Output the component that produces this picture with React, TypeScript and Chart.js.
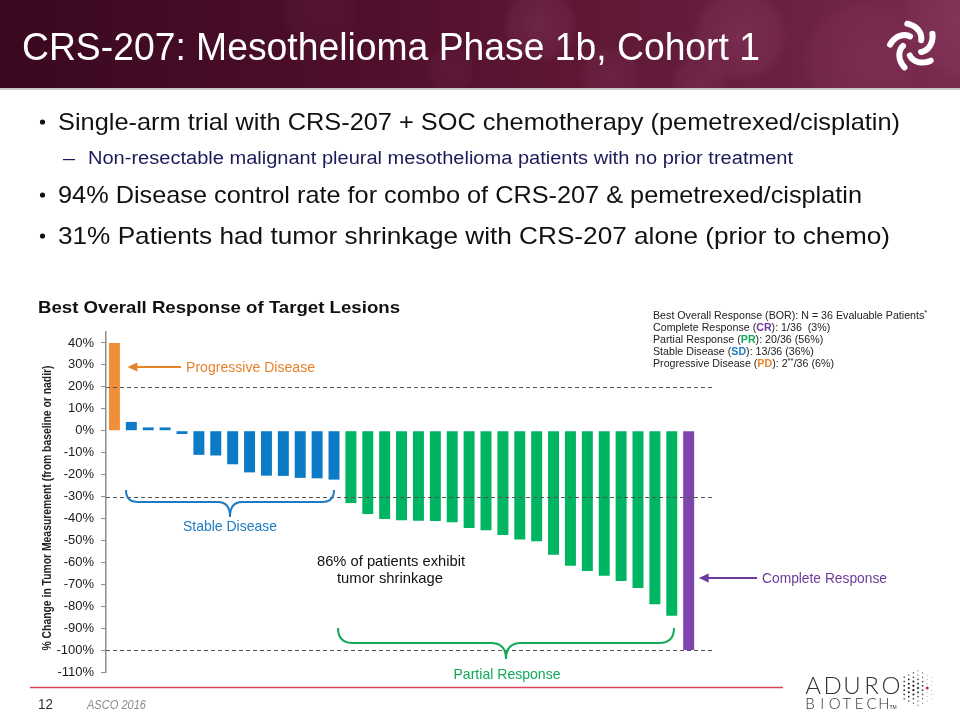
import React, { useEffect, useRef } from "react";
import { Chart, registerables } from "chart.js";
Chart.register(...registerables);

const FONT = '"Liberation Sans", Arial, Helvetica, sans-serif';

// ---- data ----
const patientLabels = [
  "1", "2", "3", "4", "5", "6", "7", "8", "9", "10", "11", "12",
  "13", "14", "15", "16", "17", "18", "19", "20", "21", "22", "23", "24",
  "25", "26", "27", "28", "29", "30", "31", "32", "33", "34", "35", "",
];
const pdValues = [40];
const sdValues = [4, 1.5, 1.5, -1.5, -11, -11.3, -15.3, -19, -20.5, -20.6, -21.5, -21.7, -22.3];
const prValues = [
  -33, -38, -40.2, -40.8, -41.1, -41.2, -41.7, -44.4, -45.4, -47.6,
  -49.6, -50.4, -56.6, -61.6, -63.9, -66.1, -68.5, -71.7, -79.1, -84.3,
];
const crValues = [-100];
const refLines = [20, -30, -100];
const bulletLines = [
  "Single-arm trial with CRS-207 + SOC chemotherapy (pemetrexed/cisplatin)",
  "Non-resectable malignant pleural mesothelioma patients with no prior treatment",
  "94% Disease control rate for combo of CRS-207 & pemetrexed/cisplatin",
  "31% Patients had tumor shrinkage with CRS-207 alone (prior to chemo)",
];

const PD_COLOR = "#F28E3A";
const SD_COLOR = "#0B7BC7";
const PR_COLOR = "#00B562";
const CR_COLOR = "#7E45AE";
const PD_TEXT = "#E8822A";
const SD_TEXT = "#1C7CC3";
const PR_TEXT = "#12A957";
const CR_TEXT = "#6E3A9E";

function fitText(ctx: CanvasRenderingContext2D, text: string, x: number, y: number, width: number, font: string, color: string, align: CanvasTextAlign = "left") {
  ctx.save();
  ctx.font = font;
  ctx.fillStyle = color;
  ctx.textBaseline = "alphabetic";
  const w = ctx.measureText(text).width;
  const s = width / w;
  ctx.translate(x, y);
  ctx.scale(s, 1);
  ctx.textAlign = align;
  ctx.fillText(text, 0, 0);
  ctx.restore();
}

type Run = { text: string; font: string; color: string; dy?: number };
function drawRuns(ctx: CanvasRenderingContext2D, runs: Run[], x: number, y: number, sx = 1) {
  let cx = 0;
  ctx.save();
  ctx.translate(x, y);
  ctx.scale(sx, 1);
  ctx.textAlign = "left";
  ctx.textBaseline = "alphabetic";
  for (const r of runs) {
    ctx.font = r.font;
    ctx.fillStyle = r.color;
    ctx.fillText(r.text, cx, r.dy || 0);
    cx += ctx.measureText(r.text).width;
  }
  ctx.restore();
}

function brace(ctx: CanvasRenderingContext2D, x1: number, x2: number, yTop: number, yMid: number, yTip: number, color: string) {
  const xm = (x1 + x2) / 2;
  const r = yMid - yTop;
  ctx.save();
  ctx.strokeStyle = color;
  ctx.lineWidth = 2;
  ctx.beginPath();
  ctx.moveTo(x1, yTop);
  ctx.quadraticCurveTo(x1, yMid, x1 + r, yMid);
  ctx.lineTo(xm - r, yMid);
  ctx.quadraticCurveTo(xm, yMid, xm, yTip);
  ctx.quadraticCurveTo(xm, yMid, xm + r, yMid);
  ctx.lineTo(x2 - r, yMid);
  ctx.quadraticCurveTo(x2, yMid, x2, yTop);
  ctx.stroke();
  ctx.restore();
}

function arrowLeft(ctx: CanvasRenderingContext2D, xFrom: number, xTip: number, y: number, color: string) {
  ctx.save();
  ctx.strokeStyle = color;
  ctx.fillStyle = color;
  ctx.lineWidth = 2;
  ctx.beginPath();
  ctx.moveTo(xFrom, y);
  ctx.lineTo(xTip + 7, y);
  ctx.stroke();
  ctx.beginPath();
  ctx.moveTo(xTip, y);
  ctx.lineTo(xTip + 10, y - 4.5);
  ctx.lineTo(xTip + 10, y + 4.5);
  ctx.closePath();
  ctx.fill();
  ctx.restore();
}

function drawHeader(ctx: CanvasRenderingContext2D) {
  ctx.save();
  const g = ctx.createLinearGradient(0, 0, 960, 0);
  g.addColorStop(0, "#3a0820");
  g.addColorStop(0.35, "#4c0e2b");
  g.addColorStop(0.6, "#5e1735");
  g.addColorStop(0.85, "#6d2244");
  g.addColorStop(1, "#7a2c50");
  ctx.fillStyle = g;
  ctx.fillRect(0, 0, 960, 88);
  ctx.beginPath();
  ctx.rect(0, 0, 960, 88);
  ctx.clip();
  const blobs = [
    [320, 10, 40, 0.05], [540, 25, 38, 0.12], [610, 75, 30, 0.08], [740, 35, 48, 0.12],
    [700, 85, 30, 0.09], [860, 60, 60, 0.07], [450, 70, 25, 0.05], [960, 20, 60, 0.08],
  ];
  for (const [bx, by, br, a] of blobs) {
    const rg = ctx.createRadialGradient(bx, by, 2, bx, by, br);
    rg.addColorStop(0, `rgba(230,150,190,${a})`);
    rg.addColorStop(0.8, `rgba(200,110,160,${a * 0.8})`);
    rg.addColorStop(1, "rgba(200,110,160,0)");
    ctx.fillStyle = rg;
    ctx.beginPath();
    ctx.arc(bx, by, br, 0, Math.PI * 2);
    ctx.fill();
  }
  ctx.restore();
  ctx.fillStyle = "#c8c8c8";
  ctx.fillRect(0, 88, 960, 2);
  fitText(ctx, "CRS-207: Mesothelioma Phase 1b, Cohort 1", 22, 60, 738, `38px ${FONT}`, "#ffffff");
  // pinwheel logo
  ctx.save();
  ctx.strokeStyle = "#ffffff";
  ctx.lineWidth = 6;
  ctx.lineCap = "round";
  const cx = 913, cy = 46;
  for (let k = 0; k < 5; k++) {
    const a0 = -Math.PI / 2 + k * (2 * Math.PI / 5) - 0.25;
    ctx.beginPath();
    for (let t = 0; t <= 1.0001; t += 0.1) {
      const ang = a0 + t * 1.2;
      const rr = 23 - t * 13;
      const px = cx + rr * Math.cos(ang);
      const py = cy + rr * Math.sin(ang);
      if (t === 0) ctx.moveTo(px, py); else ctx.lineTo(px, py);
    }
    ctx.stroke();
  }
  ctx.restore();
}

function drawBullets(ctx: CanvasRenderingContext2D) {
  ctx.save();
  ctx.fillStyle = "#111";
  const dots = [122, 195, 236];
  for (const y of dots) {
    ctx.beginPath();
    ctx.arc(42.5, y, 2.6, 0, Math.PI * 2);
    ctx.fill();
  }
  ctx.restore();
  fitText(ctx, bulletLines[0], 58, 130, 842, `24px ${FONT}`, "#111");
  fitText(ctx, "–", 63, 164, 12, `18px ${FONT}`, "#1b1b58");
  fitText(ctx, bulletLines[1], 88, 164, 705, `18px ${FONT}`, "#1b1b58");
  fitText(ctx, bulletLines[2], 58, 203, 804, `24px ${FONT}`, "#111");
  fitText(ctx, bulletLines[3], 58, 244, 832, `24px ${FONT}`, "#111");
}

function drawLegendBox(ctx: CanvasRenderingContext2D) {
  const f = `11px ${FONT}`;
  const fb = `bold 11px ${FONT}`;
  const fs = `8px ${FONT}`;
  const c = "#222";
  const x = 653;
  const sx = 0.97;
  drawRuns(ctx, [
    { text: "Best Overall Response (BOR): N = 36 Evaluable Patients", font: f, color: c },
    { text: "*", font: fs, color: c, dy: -4 },
  ], x, 319, sx);
  drawRuns(ctx, [
    { text: "Complete Response (", font: f, color: c },
    { text: "CR", font: fb, color: CR_TEXT },
    { text: "): 1/36  (3%)", font: f, color: c },
  ], x, 331, sx);
  drawRuns(ctx, [
    { text: "Partial Response (", font: f, color: c },
    { text: "PR", font: fb, color: PR_TEXT },
    { text: "): 20/36 (56%)", font: f, color: c },
  ], x, 343, sx);
  drawRuns(ctx, [
    { text: "Stable Disease (", font: f, color: c },
    { text: "SD", font: fb, color: SD_TEXT },
    { text: "): 13/36 (36%)", font: f, color: c },
  ], x, 355, sx);
  drawRuns(ctx, [
    { text: "Progressive Disease (", font: f, color: c },
    { text: "PD", font: fb, color: PD_TEXT },
    { text: "): 2", font: f, color: c },
    { text: "**", font: fs, color: c, dy: -4 },
    { text: "/36 (6%)", font: f, color: c },
  ], x, 367, sx);
}

function drawFooter(ctx: CanvasRenderingContext2D) {
  ctx.save();
  ctx.strokeStyle = "#D94453";
  ctx.lineWidth = 1.5;
  ctx.beginPath();
  ctx.moveTo(30, 687.5);
  ctx.lineTo(783, 687.5);
  ctx.stroke();
  ctx.restore();
  fitText(ctx, "12", 38, 709, 15, `14px ${FONT}`, "#333");
  fitText(ctx, "ASCO 2016", 87, 709, 59, `italic 13px ${FONT}`, "#8a8a8a");
  // ADURO BIOTECH logo
  ctx.save();
  ctx.fillStyle = "#333";
  ctx.textBaseline = "alphabetic";
  ctx.textAlign = "center";
  ctx.font = `300 24px Lato, ${FONT}`;
  const big = "ADURO";
  for (let i = 0; i < big.length; i++) ctx.fillText(big[i], 813 + i * 19.5, 694);
  ctx.font = `300 15px Lato, ${FONT}`;
  const small = "BIOTECH";
  for (let i = 0; i < small.length; i++) ctx.fillText(small[i], 810 + i * 12.3, 709);
  ctx.font = `5px ${FONT}`;
  ctx.fillText("TM", 893, 709);
  // dot cluster
  const ccx = 918, ccy = 688;
  for (let row = -4; row <= 4; row++) {
    for (let col = -3; col <= 3; col++) {
      const px = ccx + col * 4.6;
      const py = ccy + row * 4.3 + (col % 2 !== 0 ? 2.15 : 0);
      const d = Math.hypot(px - ccx, py - ccy);
      if (d > 19) continue;
      const rightness = (col + 3) / 6;
      const sz = Math.max(0.6, 1.5 - d / 22 - rightness * 0.4);
      ctx.fillStyle = rightness > 0.7 ? "#b8b8b8" : rightness > 0.45 ? "#555" : "#1a1a1a";
      ctx.beginPath();
      ctx.arc(px, py, sz, 0, Math.PI * 2);
      ctx.fill();
    }
  }
  ctx.fillStyle = "#d2232a";
  ctx.beginPath();
  ctx.arc(927.2, 688, 1.5, 0, Math.PI * 2);
  ctx.fill();
  ctx.restore();
}

const slidePlugin = {
  id: "slide",
  beforeDraw(chart: any) {
    const ctx: CanvasRenderingContext2D = chart.ctx;
    ctx.save();
    ctx.fillStyle = "#ffffff";
    ctx.fillRect(0, 0, chart.width, chart.height);
    ctx.restore();
    drawHeader(ctx);
    drawBullets(ctx);
    fitText(ctx, "Best Overall Response of Target Lesions", 38, 313, 362, `bold 17px ${FONT}`, "#111");
    drawLegendBox(ctx);
    drawFooter(ctx);
  },
  afterDatasetsDraw(chart: any) {
    const ctx: CanvasRenderingContext2D = chart.ctx;
    const y = chart.scales.y;
    const area = chart.chartArea;
    ctx.save();
    ctx.strokeStyle = "#555";
    ctx.lineWidth = 1;
    ctx.setLineDash([4, 3]);
    for (const v of refLines) {
      const py = Math.round(y.getPixelForValue(v)) + 0.5;
      ctx.beginPath();
      ctx.moveTo(area.left, py);
      ctx.lineTo(area.right - 2, py);
      ctx.stroke();
    }
    ctx.restore();
  },
  afterDraw(chart: any) {
    const ctx: CanvasRenderingContext2D = chart.ctx;
    const x = chart.scales.x;
    const y = chart.scales.y;
    // y axis title
    ctx.save();
    ctx.translate(51, 508);
    ctx.rotate(-Math.PI / 2);
    fitText(ctx, "% Change in Tumor Measurement (from baseline or nadir)", 0, 0, 285, `bold 12.5px ${FONT}`, "#222", "center");
    ctx.restore();
    // progressive disease
    const pdY = y.getPixelForValue(29);
    arrowLeft(ctx, 181, x.getPixelForValue(0) + 13, pdY, PD_TEXT);
    fitText(ctx, "Progressive Disease", 186, pdY + 5, 129, `14px ${FONT}`, PD_TEXT);
    // stable disease
    brace(ctx, 126, 334, 490, 502, 517, SD_TEXT);
    fitText(ctx, "Stable Disease", 230, 531, 94, `14.5px ${FONT}`, SD_TEXT, "center");
    // shrinkage note
    fitText(ctx, "86% of patients exhibit", 391, 566, 148, `15px ${FONT}`, "#111", "center");
    fitText(ctx, "tumor shrinkage", 390, 583, 106, `15px ${FONT}`, "#111", "center");
    // partial response
    brace(ctx, 338, 674, 628, 643, 659, PR_TEXT);
    fitText(ctx, "Partial Response", 507, 679, 107, `14.5px ${FONT}`, PR_TEXT, "center");
    // complete response
    const crY = 578;
    arrowLeft(ctx, 757, x.getPixelForValue(34) + 10, crY, CR_TEXT);
    fitText(ctx, "Complete Response", 762, crY + 5, 125, `14.5px ${FONT}`, CR_TEXT);
  },
};

export default function App() {
  const ref = useRef<HTMLCanvasElement | null>(null);
  useEffect(() => {
    document.body.style.margin = "0";
    const canvas = ref.current;
    if (!canvas) return;
    const values = [...pdValues, ...sdValues, ...prValues, ...crValues, null];
    const colors = [
      ...pdValues.map(() => PD_COLOR),
      ...sdValues.map(() => SD_COLOR),
      ...prValues.map(() => PR_COLOR),
      ...crValues.map(() => CR_COLOR),
      "rgba(0,0,0,0)",
    ];
    const chart = new Chart(canvas, {
      type: "bar",
      data: {
        labels: patientLabels,
        datasets: [
          {
            label: "% change",
            data: values as any,
            backgroundColor: colors,
            borderWidth: 0,
            barPercentage: 0.65,
            categoryPercentage: 1,
          },
        ],
      },
      options: {
        responsive: false,
        animation: false,
        devicePixelRatio: 1,
        layout: { padding: { left: 0, top: 332, right: 246, bottom: 48 } },
        plugins: {
          legend: { display: false },
          tooltip: { enabled: false },
          title: { display: false },
        },
        scales: {
          x: { display: false, offset: true, grid: { display: false } },
          y: {
            min: -110,
            max: 45,
            afterFit: (s: any) => { s.width = 106; },
            afterBuildTicks: (s: any) => { s.ticks = s.ticks.filter((t: any) => t.value % 10 === 0); },
            ticks: {
              stepSize: 10,
              includeBounds: false,
              padding: 7,
              color: "#1a1a1a",
              font: { family: FONT, size: 13 },
              callback: (v: any) => `${v}%`,
            },
            grid: { drawOnChartArea: false, drawTicks: true, tickLength: 5, color: "#8c8c8c" },
            border: { display: true, color: "#8c8c8c", width: 1.5 },
          },
        },
      },
      plugins: [slidePlugin],
    });
    return () => chart.destroy();
  }, []);
  return (
    <div style={{ position: "absolute", left: 0, top: 0, width: 960, height: 720, background: "#fff" }}>
      <canvas ref={ref} width={960} height={720} style={{ display: "block", width: 960, height: 720 }} />
    </div>
  );
}
